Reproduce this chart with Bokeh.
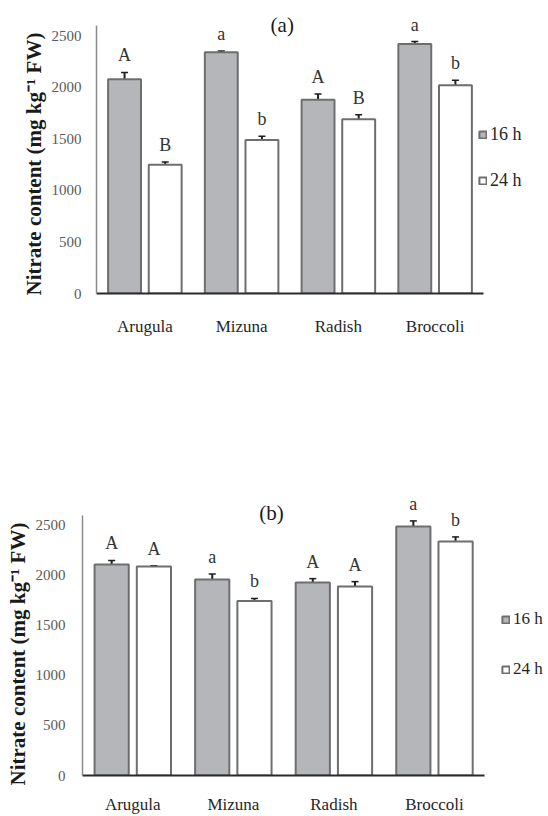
from bokeh.plotting import figure
from bokeh.models import (ColumnDataSource, Range1d, FixedTicker, Whisker,
                          TeeHead, Label, Legend, LegendItem, Title)
from bokeh.transform import dodge
from bokeh.core.properties import value
from bokeh.embed import file_html
from bokeh.resources import INLINE

# ---------------- data ----------------
categories = ["Arugula", "Mizuna", "Radish", "Broccoli"]
series_names = ["16 h", "24 h"]
y_ticks = [0, 500, 1000, 1500, 2000, 2500]
y_label = "Nitrate content (mg kg\u207b\u00b9 FW)"

a_16h = [2080, 2340, 1880, 2420]
a_16h_err = [65, 12, 55, 25]
a_24h = [1250, 1490, 1690, 2020]
a_24h_err = [25, 35, 45, 50]
a_16h_letters = ["A", "a", "A", "a"]
a_24h_letters = ["B", "b", "B", "b"]

b_16h = [2110, 1960, 1930, 2490]
b_16h_err = [40, 55, 38, 55]
b_24h = [2090, 1745, 1890, 2340]
b_24h_err = [8, 25, 48, 45]
b_16h_letters = ["A", "a", "A", "a"]
b_24h_letters = ["A", "b", "A", "b"]

SERIF = "Liberation Serif"
GRAY_FILL = "#b5b6ba"
BAR_LINE = "#6e6e6e"


def make_panel(tag, v16, e16, l16, v24, e24, l24, width, height, bl, bb,
               xend, ymax, title_x, title_off, leg_loc, leg_spacing, leg_font,
               xlab_standoff, tick_standoff, ylab_offset):
    idx = list(range(len(categories)))
    src = ColumnDataSource(dict(
        idx=idx,
        v16=v16, up16=[v + e for v, e in zip(v16, e16)], lo16=[v - e for v, e in zip(v16, e16)], t16=l16,
        v24=v24, up24=[v + e for v, e in zip(v24, e24)], lo24=[v - e for v, e in zip(v24, e24)], t24=l24,
    ))
    p = figure(x_range=Range1d(-0.5, xend), y_range=Range1d(0, ymax),
               width=width, height=height, output_backend="svg", toolbar_location=None,
               min_border_left=bl, min_border_right=0, min_border_top=0, min_border_bottom=bb)
    p.outline_line_color = None
    p.xgrid.grid_line_color = None
    p.ygrid.grid_line_color = None
    p.background_fill_color = "white"
    p.border_fill_color = "white"

    x16 = dodge("idx", -0.21)
    x24 = dodge("idx", 0.21)
    r16 = p.vbar(x=x16, top="v16", width=0.34, source=src, fill_color=GRAY_FILL,
                 line_color=BAR_LINE, line_width=2)
    r24 = p.vbar(x=x24, top="v24", width=0.34, source=src, fill_color="white",
                 line_color=BAR_LINE, line_width=2)

    for xb, up, lo in ((x16, "up16", "lo16"), (x24, "up24", "lo24")):
        w = Whisker(base=xb, upper=up, lower=lo, source=src, line_color="#1e1e1e", line_width=2,
                    upper_head=TeeHead(size=7, line_color="#1e1e1e", line_width=1.5),
                    lower_head=TeeHead(size=7, line_color="#1e1e1e", line_width=1.5))
        p.add_layout(w)

    for xb, up, t in ((x16, "up16", "t16"), (x24, "up24", "t24")):
        p.text(x=xb, y=up, text=t, source=src, text_align="center", text_baseline="bottom",
               y_offset=-7, text_font=value(SERIF), text_font_size="18px", text_color="#333333")

    # y axis
    p.yaxis.ticker = FixedTicker(ticks=y_ticks)
    p.yaxis.bounds = (0, 2600)
    p.yaxis.axis_line_color = "#8a8a8a"
    p.yaxis.axis_line_width = 1.5
    p.yaxis.major_tick_line_color = None
    p.yaxis.minor_tick_line_color = None
    p.yaxis.major_tick_out = 0
    p.yaxis.major_tick_in = 0
    p.yaxis.major_label_standoff = tick_standoff
    p.yaxis.major_label_text_font = SERIF
    p.yaxis.major_label_text_font_size = "15px"
    p.yaxis.major_label_text_color = "#5a5a5a"

    # x axis (categories)
    p.xaxis.ticker = FixedTicker(ticks=idx)
    p.xaxis.major_label_overrides = {i: c for i, c in zip(idx, categories)}
    p.xaxis.bounds = (-0.5, len(categories) - 0.5)
    p.xaxis.axis_line_color = "#2b2b2b"
    p.xaxis.axis_line_width = 2
    p.xaxis.major_tick_line_color = None
    p.xaxis.minor_tick_line_color = None
    p.xaxis.major_tick_out = 0
    p.xaxis.major_tick_in = 0
    p.xaxis.major_label_standoff = xlab_standoff
    p.xaxis.major_label_text_font = SERIF
    p.xaxis.major_label_text_font_size = "17px"
    p.xaxis.major_label_text_color = "#262626"

    # y-axis title (as a side title so it can be placed along the axis)
    p.add_layout(Title(text=y_label, align="left", offset=ylab_offset, standoff=6,
                       text_font=SERIF, text_font_style="bold", text_font_size="21px",
                       text_color="#1a1a1a"), "left")
    # panel tag
    p.add_layout(Label(x=title_x, y=ymax, y_offset=title_off, text=tag, text_align="center",
                       text_baseline="middle", text_font=SERIF, text_font_size="21px",
                       text_color="#1a1a1a"))

    legend = Legend(items=[LegendItem(label=series_names[0], renderers=[r16]),
                           LegendItem(label=series_names[1], renderers=[r24])],
                    location=leg_loc, orientation="vertical", padding=0, margin=0,
                    spacing=leg_spacing, glyph_width=9, glyph_height=9, label_standoff=3,
                    label_text_font=SERIF, label_text_font_size=leg_font,
                    label_text_color="#262626", border_line_color=None,
                    background_fill_alpha=0)
    p.add_layout(legend)
    return p


pa = make_panel("(a)", a_16h, a_16h_err, a_16h_letters, a_24h, a_24h_err, a_24h_letters,
                width=548, height=480, bl=96, bb=187, xend=4.172, ymax=2843,
                title_x=1.42, title_off=-24, leg_loc=(382, 102), leg_spacing=25,
                leg_font="18px", xlab_standoff=23, tick_standoff=15, ylab_offset=-2)
pb = make_panel("(b)", b_16h, b_16h_err, b_16h_letters, b_24h, b_24h_err, b_24h_letters,
                width=548, height=336, bl=80, bb=40, xend=4.134, ymax=2949,
                title_x=1.38, title_off=-32, leg_loc=(419, 96), leg_spacing=30,
                leg_font="17px", xlab_standoff=19, tick_standoff=17, ylab_offset=-10)

open("out.html", "w").write(file_html([pa, pb], INLINE))
